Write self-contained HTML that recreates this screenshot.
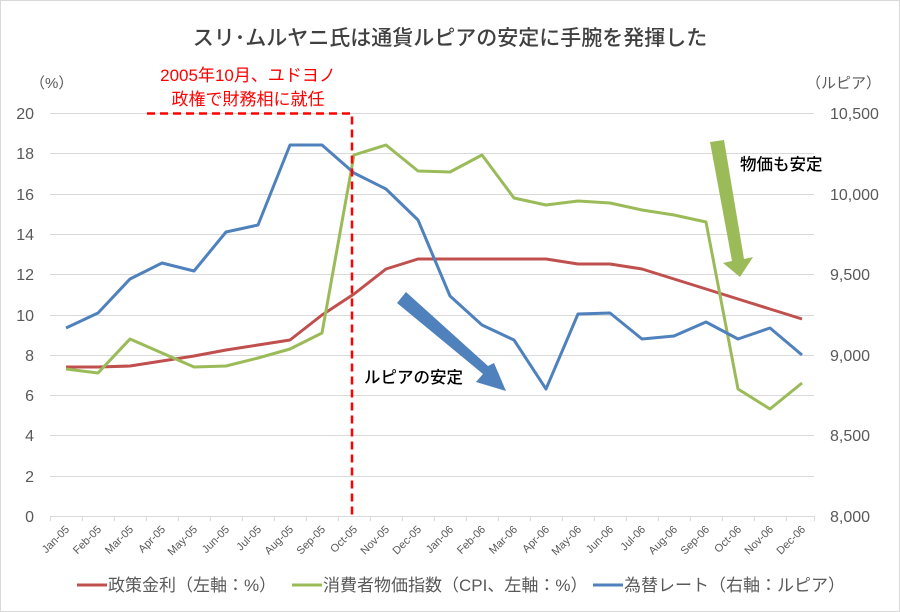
<!DOCTYPE html>
<html><head><meta charset="utf-8"><style>
html,body{margin:0;padding:0;background:#fff}
svg{display:block;font-family:"Liberation Sans","Noto Sans CJK JP",sans-serif}
</style></head><body>
<svg width="900" height="612" viewBox="0 0 900 612" xmlns="http://www.w3.org/2000/svg">
<rect x="0.5" y="0.5" width="899" height="611" fill="#fff" stroke="#d9d9d9"/>
<text x="450" y="45" text-anchor="middle" font-size="21" font-weight="500" fill="#404040">スリ･ムルヤニ氏は通貨ルピアの安定に手腕を発揮した</text>
<g stroke="#d9d9d9" stroke-width="1">
<line x1="50" x2="814" y1="113.5" y2="113.5"/><line x1="50" x2="814" y1="153.5" y2="153.5"/>
<line x1="50" x2="814" y1="194.5" y2="194.5"/><line x1="50" x2="814" y1="234.5" y2="234.5"/>
<line x1="50" x2="814" y1="274.5" y2="274.5"/><line x1="50" x2="814" y1="315.5" y2="315.5"/>
<line x1="50" x2="814" y1="355.5" y2="355.5"/><line x1="50" x2="814" y1="395.5" y2="395.5"/>
<line x1="50" x2="814" y1="435.5" y2="435.5"/><line x1="50" x2="814" y1="476.5" y2="476.5"/>
<line x1="50" x2="814" y1="516.5" y2="516.5"/>
</g>
<g stroke="#d9d9d9"><path d="M50.5 516v5M82.5 516v5M114.5 516v5M146.5 516v5M178.5 516v5M210.5 516v5M242.5 516v5M274.5 516v5M306.5 516v5M338.5 516v5M370.5 516v5M402.5 516v5M434.5 516v5M466.5 516v5M498.5 516v5M530.5 516v5M562.5 516v5M594.5 516v5M626.5 516v5M658.5 516v5M690.5 516v5M722.5 516v5M754.5 516v5M786.5 516v5M814.5 516v5"/></g>
<g font-size="16" fill="#595959" text-anchor="end">
<text x="34" y="119">20</text><text x="34" y="159">18</text><text x="34" y="200">16</text><text x="34" y="240">14</text><text x="34" y="280">12</text><text x="34" y="321">10</text><text x="34" y="361">8</text><text x="34" y="401">6</text><text x="34" y="441">4</text><text x="34" y="482">2</text><text x="34" y="522">0</text>
</g>
<g font-size="16" fill="#595959" text-anchor="start">
<text x="830" y="119">10,500</text><text x="830" y="200">10,000</text><text x="830" y="280">9,500</text><text x="830" y="361">9,000</text><text x="830" y="441">8,500</text><text x="830" y="522">8,000</text>
</g>
<text x="30" y="88" font-size="15" fill="#595959">（%）</text>
<text x="806" y="88" font-size="15" fill="#595959">（ルピア）</text>
<g font-size="11" fill="#595959" text-anchor="end">
<text transform="translate(70,530) rotate(-45)">Jan-05</text><text transform="translate(102,530) rotate(-45)">Feb-05</text><text transform="translate(134,530) rotate(-45)">Mar-05</text><text transform="translate(166,530) rotate(-45)">Apr-05</text><text transform="translate(198,530) rotate(-45)">May-05</text><text transform="translate(230,530) rotate(-45)">Jun-05</text><text transform="translate(262,530) rotate(-45)">Jul-05</text><text transform="translate(294,530) rotate(-45)">Aug-05</text><text transform="translate(326,530) rotate(-45)">Sep-05</text><text transform="translate(358,530) rotate(-45)">Oct-05</text><text transform="translate(390,530) rotate(-45)">Nov-05</text><text transform="translate(422,530) rotate(-45)">Dec-05</text><text transform="translate(454,530) rotate(-45)">Jan-06</text><text transform="translate(486,530) rotate(-45)">Feb-06</text><text transform="translate(518,530) rotate(-45)">Mar-06</text><text transform="translate(550,530) rotate(-45)">Apr-06</text><text transform="translate(582,530) rotate(-45)">May-06</text><text transform="translate(614,530) rotate(-45)">Jun-06</text><text transform="translate(646,530) rotate(-45)">Jul-06</text><text transform="translate(678,530) rotate(-45)">Aug-06</text><text transform="translate(710,530) rotate(-45)">Sep-06</text><text transform="translate(742,530) rotate(-45)">Oct-06</text><text transform="translate(774,530) rotate(-45)">Nov-06</text><text transform="translate(806,530) rotate(-45)">Dec-06</text>
</g>
<g fill="none" stroke-width="3" stroke-linejoin="round">
<polyline stroke="#c0504d" points="66,367 98,367 130,366 162,361 194,356 226,350 258,345 290,340 322,315 354,294 386,269 418,259 450,259 482,259 514,259 546,259 578,264 610,264 642,269 674,279 706,289 738,299 770,309 802,319"/>
<polyline stroke="#9bbb59" points="66,369 98,373 130,339 162,353 194,367 226,366 258,358 290,349 322,333 354,155 386,145 418,171 450,172 482,155 514,198 546,205 578,201 610,203 642,210 674,215 706,222 738,389 770,409 802,383"/>
<polyline stroke="#4f81bd" points="66,328 98,313 130,279 162,263 194,271 226,232 258,225 290,145 322,145 354,173 386,189 418,220 450,296 482,325 514,340 546,389 578,314 610,313 642,339 674,336 706,322 738,339 770,328 802,355"/>
</g>
<path d="M147 113.5H352V516" fill="none" stroke="#ff0000" stroke-width="2.5" stroke-dasharray="8,5"/>
<text x="248" y="81" text-anchor="middle" font-size="17" fill="#ff0000">2005年10月、ユドヨノ</text>
<text x="248" y="105" text-anchor="middle" font-size="17" fill="#ff0000">政権で財務相に就任</text>
<polygon points="710,142 724,140 744,259 753,257 740,277 723,263 732,261" fill="#9bbb59"/>
<text x="740" y="170" font-size="16.5" font-weight="500" fill="#000">物価も安定</text>
<polygon points="406,292 397,303 483,374 476,382 506,391 494,363 488,366" fill="#4f81bd"/>
<text x="364" y="383" font-size="16.5" font-weight="500" fill="#000">ルピアの安定</text>
<g font-size="17" fill="#595959">
<line x1="77" x2="107" y1="585" y2="585" stroke="#c0504d" stroke-width="3"/><text x="108" y="591">政策金利（左軸：%）</text>
<line x1="292" x2="322" y1="585" y2="585" stroke="#9bbb59" stroke-width="3"/><text x="323" y="591">消費者物価指数（CPI、左軸：%）</text>
<line x1="593" x2="623" y1="585" y2="585" stroke="#4f81bd" stroke-width="3"/><text x="624" y="591">為替レート（右軸：ルピア）</text>
</g>
</svg>
</body></html>
